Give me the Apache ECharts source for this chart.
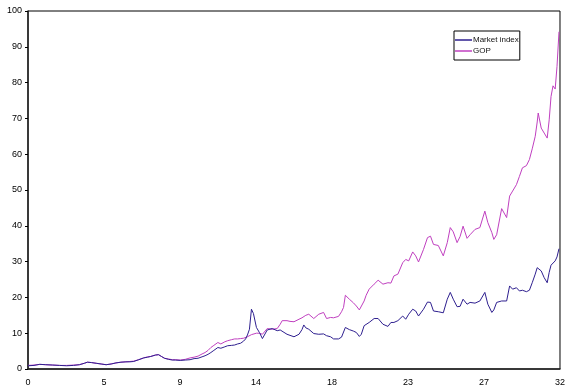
<!DOCTYPE html>
<html>
<head>
<meta charset="utf-8">
<script src="https://cdn.jsdelivr.net/npm/echarts@6/dist/echarts.min.js"></script>
<style>
  html, body { margin: 0; padding: 0; background: #fff; }
  #chart { width: 568px; height: 387px; }
</style>
</head>
<body>
<div id="chart"></div>
<script>
// Time in years since start
const years = [
  0.00, 0.36, 0.71, 1.07, 1.49, 1.90, 2.32, 2.74, 3.09, 3.39, 3.57, 3.81, 4.10, 4.40, 4.70,
  5.00, 5.29, 5.59, 5.89, 6.13, 6.36, 6.66, 6.96, 7.20, 7.38, 7.67, 7.85, 8.03, 8.21, 8.45,
  8.68, 8.86, 9.16, 9.46, 9.75, 9.99, 10.23, 10.47, 10.65, 10.83, 11.00, 11.18, 11.42, 11.60,
  11.84, 12.01, 12.25, 12.43, 12.61, 12.79, 12.97, 13.09, 13.20, 13.32, 13.44, 13.56, 13.74,
  13.92, 14.10, 14.22, 14.39, 14.69, 14.99, 15.17, 15.29, 15.58, 15.76, 16.00, 16.30, 16.48,
  16.59, 16.71, 16.89, 17.19, 17.49, 17.78, 17.96, 18.20, 18.38, 18.68, 18.86, 18.98, 19.09,
  19.33, 19.57, 19.75, 19.93, 20.05, 20.22, 20.34, 20.52, 20.82, 21.06, 21.35, 21.65, 21.83,
  22.01, 22.25, 22.54, 22.72, 22.90, 23.14, 23.32, 23.49, 23.79, 24.03, 24.21, 24.39, 24.68,
  24.98, 25.22, 25.40, 25.58, 25.81, 25.99, 26.17, 26.41, 26.59, 26.89, 27.18, 27.48, 27.66,
  27.90, 28.02, 28.19, 28.49, 28.79, 28.97, 29.15, 29.38, 29.56, 29.74, 29.98, 30.16, 30.33,
  30.51, 30.63, 30.69, 30.87, 31.05, 31.23, 31.35, 31.46, 31.58, 31.71, 31.82, 31.94
];

const marketIndex = [
  0.9, 1.0, 1.3, 1.2, 1.1, 1.0, 0.9, 1.0, 1.2, 1.6, 1.9, 1.8, 1.6, 1.4, 1.2,
  1.4, 1.7, 1.9, 2.0, 2.0, 2.1, 2.6, 3.1, 3.3, 3.5, 3.9, 4.0, 3.5, 3.0, 2.7,
  2.5, 2.5, 2.4, 2.5, 2.6, 2.9, 3.0, 3.4, 3.7, 4.1, 4.6, 5.2, 6.0, 5.8,
  6.2, 6.5, 6.6, 6.7, 7.0, 7.2, 7.8, 8.4, 9.5, 11.1, 16.7, 15.5, 11.6,
  10.2, 8.5, 8.4, 10.9, 11.3, 10.7, 10.9, 11.3, 9.7, 9.4, 9.0, 9.7, 11.0,
  12.3, 11.5, 11.1, 9.9, 9.7, 9.8, 9.3, 9.0, 8.4, 8.4, 8.9, 9.3, 11.6,
  11.0, 10.6, 10.2, 9.1, 9.7, 12.1, 11.8, 13.0, 14.1, 14.1, 12.5, 11.9, 13.0,
  13.0, 13.5, 14.8, 13.9, 15.3, 16.7, 16.2, 14.8, 16.7, 18.7, 18.6, 16.2, 16.0,
  15.7, 19.5, 21.4, 19.5, 17.4, 17.5, 19.5, 18.1, 18.6, 18.4, 19.0, 21.4, 18.1,
  15.8, 16.5, 18.6, 19.0, 19.0, 23.2, 22.3, 22.7, 21.8, 22.0, 21.6, 22.0, 24.1,
  26.5, 28.3, 28.8, 27.4, 25.5, 24.1, 27.0, 29.0, 29.2, 30.2, 31.3, 33.6
];

const gop = [
  1.0, 1.1, 1.3, 1.2, 1.1, 1.0, 1.0, 1.1, 1.2, 1.6, 1.9, 1.8, 1.6, 1.4, 1.2,
  1.4, 1.7, 1.9, 2.0, 2.1, 2.2, 2.6, 3.1, 3.4, 3.5, 3.9, 4.0, 3.5, 3.0, 2.8,
  2.6, 2.6, 2.5, 2.7, 3.1, 3.3, 3.6, 4.2, 4.6, 5.2, 6.0, 6.6, 7.4, 7.0,
  7.6, 7.9, 8.2, 8.4, 8.4, 8.5, 8.6, 8.7, 9.0, 9.3, 9.6, 9.9, 10.0,
  10.0, 9.7, 10.2, 11.3, 11.1, 11.3, 12.5, 13.5, 13.5, 13.3, 13.2, 13.9, 14.3,
  14.7, 15.0, 15.3, 14.1, 15.3, 15.8, 14.1, 14.4, 14.3, 14.7, 16.0, 17.2, 20.6,
  19.5, 18.5, 17.6, 16.5, 16.7, 19.0, 20.6, 22.3, 23.7, 24.8, 23.7, 24.1, 24.0,
  26.0, 26.5, 29.7, 30.6, 30.2, 32.7, 31.6, 29.9, 33.4, 36.7, 37.1, 34.8, 34.5,
  31.6, 35.3, 39.5, 38.3, 35.3, 37.0, 39.9, 36.5, 37.5, 39.0, 39.5, 44.1, 40.9,
  38.1, 36.2, 37.5, 44.8, 42.3, 48.3, 49.7, 51.5, 53.8, 56.2, 56.8, 58.5, 61.5,
  65.0, 69.0, 71.5, 67.3, 65.9, 64.5, 69.6, 76.1, 79.1, 78.2, 84.5, 94.2
];

const seriesNames = ['Market index', 'GOP'];

const pairs = vals => years.map((t, i) => [t, vals[i]]);

const chart = echarts.init(document.getElementById('chart'), null, { renderer: 'canvas' });
chart.setOption({
  animation: false,
  backgroundColor: '#fff',
  textStyle: { fontFamily: 'Liberation Sans, Arial, sans-serif' },
  grid: {
    left: 28, right: 2, top: 11, bottom: 17,
    show: true, borderColor: '#000', borderWidth: 1, backgroundColor: 'transparent'
  },
  legend: {
    orient: 'vertical',
    left: 454, top: 31,
    data: seriesNames,
    icon: 'rect',
    itemWidth: 17, itemHeight: 1.5,
    itemGap: 1,
    padding: [4, 1, 4, 1],
    backgroundColor: '#fff',
    borderColor: '#000', borderWidth: 1,
    textStyle: { fontSize: 8, color: '#111', padding: [0, 0, 0, -4], lineHeight: 10 }
  },
  xAxis: {
    type: 'value',
    min: 0, max: 32, interval: 32 / 7,
    axisLine: { show: true, lineStyle: { color: '#222', width: 1.5 } },
    axisTick: { show: false },
    splitLine: { show: false },
    axisLabel: {
      fontSize: 9, color: '#000', margin: 9,
      showMinLabel: true, showMaxLabel: true,
      formatter: v => String(Math.round(v))
    }
  },
  yAxis: {
    type: 'value',
    min: 0, max: 100, interval: 10,
    axisLine: { show: true, lineStyle: { color: '#222', width: 1.5 } },
    axisTick: { show: true, inside: false, length: 3, lineStyle: { color: '#000' } },
    splitLine: { show: false },
    axisLabel: { fontSize: 9, color: '#000', margin: 6 }
  },
  series: [
    {
      name: seriesNames[0], type: 'line', data: pairs(marketIndex),
      showSymbol: false, symbol: 'none',
      lineStyle: { color: '#2e1f8f', width: 1 }, itemStyle: { color: '#2e1f8f' }, z: 3
    },
    {
      name: seriesNames[1], type: 'line', data: pairs(gop),
      showSymbol: false, symbol: 'none',
      lineStyle: { color: '#c040c0', width: 1 }, itemStyle: { color: '#c040c0' }, z: 2
    }
  ]
});
</script>
</body>
</html>
